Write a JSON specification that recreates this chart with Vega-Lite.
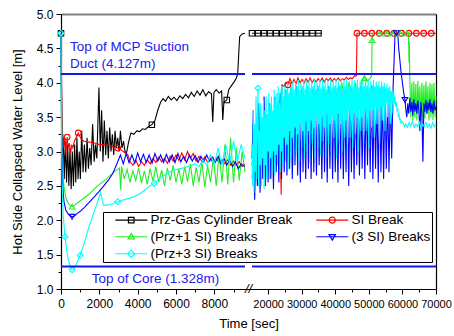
{
"$schema":"https://vega.github.io/schema/vega-lite/v6.json",
"width":375,"height":275,
"autosize":{"type":"none"},
"padding":{"left":61,"top":14,"right":18,"bottom":47},
"background":"white",
"config":{"view":{"stroke":null},"font":"Liberation Sans",
 "axis":{"labelFont":"Liberation Sans","titleFont":"Liberation Sans","labelColor":"#000","titleColor":"#000","domainColor":"#000","tickColor":"#000","grid":false,"titleFontWeight":"normal"}},
"data":{"values":[
{"s":"A","g":1,"t":0,"v":4.72,"m":1},{"s":"A","g":1,"t":40,"v":3.7},{"s":"A","g":1,"t":70,"v":2.9},{"s":"A","g":1,"t":120,"v":3.2},{"s":"A","g":1,"t":170,"v":2.6},{"s":"A","g":1,"t":230,"v":3.15},{"s":"A","g":1,"t":290,"v":2.55},{"s":"A","g":1,"t":350,"v":3.1},{"s":"A","g":1,"t":410,"v":2.5},{"s":"A","g":1,"t":470,"v":3.05},{"s":"A","g":1,"t":530,"v":2.45},{"s":"A","g":1,"t":590,"v":3.0},{"s":"A","g":1,"t":650,"v":2.5},{"s":"A","g":1,"t":710,"v":3.1},{"s":"A","g":1,"t":770,"v":2.55},{"s":"A","g":1,"t":830,"v":3.2},{"s":"A","g":1,"t":890,"v":2.6},{"s":"A","g":1,"t":950,"v":3.0},{"s":"A","g":1,"t":1010,"v":2.6},{"s":"A","g":1,"t":1080,"v":3.3},{"s":"A","g":1,"t":1150,"v":2.7},{"s":"A","g":1,"t":1220,"v":3.1},{"s":"A","g":1,"t":1290,"v":2.7},{"s":"A","g":1,"t":1360,"v":3.2},{"s":"A","g":1,"t":1430,"v":2.75},{"s":"A","g":1,"t":1500,"v":3.05},{"s":"A","g":1,"t":1570,"v":2.8},{"s":"A","g":1,"t":1650,"v":3.4},{"s":"A","g":1,"t":1730,"v":2.85},{"s":"A","g":1,"t":1800,"v":3.1},{"s":"A","g":1,"t":1870,"v":2.9},{"s":"A","g":1,"t":1980,"v":3.93},{"s":"A","g":1,"t":2050,"v":3.0},{"s":"A","g":1,"t":2120,"v":3.6},{"s":"A","g":1,"t":2190,"v":2.85},{"s":"A","g":1,"t":2260,"v":3.45},{"s":"A","g":1,"t":2330,"v":2.95},{"s":"A","g":1,"t":2400,"v":3.3},{"s":"A","g":1,"t":2470,"v":2.9},{"s":"A","g":1,"t":2540,"v":3.35},{"s":"A","g":1,"t":2610,"v":3.0},{"s":"A","g":1,"t":2680,"v":3.25},{"s":"A","g":1,"t":2750,"v":2.95},{"s":"A","g":1,"t":2820,"v":3.3},{"s":"A","g":1,"t":2890,"v":3.05},{"s":"A","g":1,"t":2960,"v":3.2},{"s":"A","g":1,"t":3030,"v":3.0},{"s":"A","g":1,"t":3100,"v":3.3},{"s":"A","g":1,"t":3180,"v":3.05},{"s":"A","g":1,"t":3260,"v":3.15},{"s":"A","g":1,"t":3340,"v":3.0},{"s":"A","g":1,"t":3420,"v":2.98},{"s":"A","g":1,"t":3500,"v":3.1},{"s":"A","g":1,"t":3580,"v":3.2},{"s":"A","g":1,"t":3650,"v":3.27},{"s":"A","g":1,"t":3800,"v":3.25},{"s":"A","g":1,"t":3950,"v":3.3},{"s":"A","g":1,"t":4100,"v":3.29},{"s":"A","g":1,"t":4250,"v":3.33},{"s":"A","g":1,"t":4400,"v":3.32},{"s":"A","g":1,"t":4550,"v":3.36},{"s":"A","g":1,"t":4740,"v":3.39,"m":1},{"s":"A","g":1,"t":4900,"v":3.45},{"s":"A","g":1,"t":5050,"v":3.6},{"s":"A","g":1,"t":5200,"v":3.72},{"s":"A","g":1,"t":5330,"v":3.77},{"s":"A","g":1,"t":5450,"v":3.73},{"s":"A","g":1,"t":5600,"v":3.8},{"s":"A","g":1,"t":5750,"v":3.75},{"s":"A","g":1,"t":5900,"v":3.79},{"s":"A","g":1,"t":6050,"v":3.74},{"s":"A","g":1,"t":6200,"v":3.81},{"s":"A","g":1,"t":6350,"v":3.77},{"s":"A","g":1,"t":6500,"v":3.83},{"s":"A","g":1,"t":6650,"v":3.78},{"s":"A","g":1,"t":6800,"v":3.86},{"s":"A","g":1,"t":6950,"v":3.8},{"s":"A","g":1,"t":7100,"v":3.88},{"s":"A","g":1,"t":7250,"v":3.82},{"s":"A","g":1,"t":7400,"v":3.9},{"s":"A","g":1,"t":7550,"v":3.81},{"s":"A","g":1,"t":7700,"v":3.87},{"s":"A","g":1,"t":7850,"v":3.84},{"s":"A","g":1,"t":7917,"v":3.43},{"s":"A","g":1,"t":7980,"v":3.86},{"s":"A","g":1,"t":8100,"v":3.9},{"s":"A","g":1,"t":8250,"v":3.85},{"s":"A","g":1,"t":8380,"v":3.88},{"s":"A","g":1,"t":8440,"v":3.46},{"s":"A","g":1,"t":8500,"v":3.72},{"s":"A","g":1,"t":8650,"v":3.75,"m":1},{"s":"A","g":1,"t":8750,"v":3.9},{"s":"A","g":1,"t":8850,"v":3.94},{"s":"A","g":1,"t":8950,"v":3.98},{"s":"A","g":1,"t":9050,"v":4.02},{"s":"A","g":1,"t":9150,"v":4.07},{"s":"A","g":1,"t":9220,"v":4.13},{"s":"A","g":1,"t":9270,"v":4.4},{"s":"A","g":1,"t":9320,"v":4.67},{"s":"A","g":1,"t":9450,"v":4.71},{"s":"A","g":1,"t":9600,"v":4.72},
{"s":"A","g":2,"t":15200,"v":4.72,"m":1},{"s":"A","g":2,"t":17000,"v":4.72,"m":1},{"s":"A","g":2,"t":18800,"v":4.72,"m":1},{"s":"A","g":2,"t":20600,"v":4.72,"m":1},{"s":"A","g":2,"t":22400,"v":4.72,"m":1},{"s":"A","g":2,"t":24200,"v":4.72,"m":1},{"s":"A","g":2,"t":26000,"v":4.72,"m":1},{"s":"A","g":2,"t":27800,"v":4.72,"m":1},{"s":"A","g":2,"t":29600,"v":4.72,"m":1},{"s":"A","g":2,"t":31400,"v":4.72,"m":1},{"s":"A","g":2,"t":33200,"v":4.72,"m":1},{"s":"A","g":2,"t":35000,"v":4.72,"m":1},{"s":"A","g":2,"t":36000,"v":4.72},
{"s":"B","g":1,"t":0,"v":4.72},{"s":"B","g":1,"t":20,"v":4.1},{"s":"B","g":1,"t":50,"v":3.2},{"s":"B","g":1,"t":100,"v":3.25},{"s":"B","g":1,"t":150,"v":3.05},{"s":"B","g":1,"t":200,"v":3.2},{"s":"B","g":1,"t":260,"v":2.95},{"s":"B","g":1,"t":320,"v":3.21,"m":1},{"s":"B","g":1,"t":380,"v":3.05},{"s":"B","g":1,"t":440,"v":3.12},{"s":"B","g":1,"t":500,"v":2.98},{"s":"B","g":1,"t":560,"v":3.1},{"s":"B","g":1,"t":620,"v":3.05},{"s":"B","g":1,"t":700,"v":3.15},{"s":"B","g":1,"t":780,"v":3.2},{"s":"B","g":1,"t":900,"v":3.27,"m":1},{"s":"B","g":1,"t":980,"v":3.22},{"s":"B","g":1,"t":1060,"v":3.18},{"s":"B","g":1,"t":1200,"v":3.15},{"s":"B","g":1,"t":1400,"v":3.14},{"s":"B","g":1,"t":1600,"v":3.13},{"s":"B","g":1,"t":1800,"v":3.12},{"s":"B","g":1,"t":2000,"v":3.1},{"s":"B","g":1,"t":2200,"v":3.1},{"s":"B","g":1,"t":2400,"v":3.09},{"s":"B","g":1,"t":2600,"v":3.08},{"s":"B","g":1,"t":2800,"v":3.06},{"s":"B","g":1,"t":2960,"v":3.05,"m":1},{"s":"B","g":1,"t":3150,"v":3.02},{"s":"B","g":1,"t":3300,"v":2.99},{"s":"B","g":1,"t":3490,"v":2.95},{"s":"B","g":1,"t":3600,"v":2.85},{"s":"B","g":1,"t":3750,"v":2.8},{"s":"B","g":1,"t":3900,"v":2.88},{"s":"B","g":1,"t":4050,"v":2.78},{"s":"B","g":1,"t":4200,"v":2.85},{"s":"B","g":1,"t":4350,"v":2.8},{"s":"B","g":1,"t":4500,"v":2.88},{"s":"B","g":1,"t":4650,"v":2.82},{"s":"B","g":1,"t":4800,"v":2.9},{"s":"B","g":1,"t":4950,"v":2.84},{"s":"B","g":1,"t":5100,"v":2.92},{"s":"B","g":1,"t":5250,"v":2.85},{"s":"B","g":1,"t":5400,"v":2.9},{"s":"B","g":1,"t":5550,"v":2.83},{"s":"B","g":1,"t":5700,"v":2.93},{"s":"B","g":1,"t":5850,"v":2.86},{"s":"B","g":1,"t":6000,"v":2.95},{"s":"B","g":1,"t":6150,"v":2.87},{"s":"B","g":1,"t":6300,"v":2.98},{"s":"B","g":1,"t":6450,"v":2.88},{"s":"B","g":1,"t":6600,"v":3.0},{"s":"B","g":1,"t":6750,"v":2.9},{"s":"B","g":1,"t":6900,"v":2.97},{"s":"B","g":1,"t":7050,"v":2.86},{"s":"B","g":1,"t":7200,"v":2.93},{"s":"B","g":1,"t":7350,"v":2.85},{"s":"B","g":1,"t":7500,"v":2.92},{"s":"B","g":1,"t":7650,"v":2.84},{"s":"B","g":1,"t":7800,"v":2.9},{"s":"B","g":1,"t":7950,"v":2.83},{"s":"B","g":1,"t":8100,"v":2.9},{"s":"B","g":1,"t":8250,"v":2.84},{"s":"B","g":1,"t":8400,"v":2.88},{"s":"B","g":1,"t":8550,"v":2.82},{"s":"B","g":1,"t":8700,"v":2.88},{"s":"B","g":1,"t":8850,"v":2.8},{"s":"B","g":1,"t":9000,"v":2.86},{"s":"B","g":1,"t":9150,"v":2.8},{"s":"B","g":1,"t":9300,"v":2.85},{"s":"B","g":1,"t":9450,"v":2.78},{"s":"B","g":1,"t":9600,"v":2.82},
{"s":"B","g":2,"t":15200,"v":2.8},{"s":"B","g":2,"t":15800,"v":3.1},{"s":"B","g":2,"t":16400,"v":2.7},{"s":"B","g":2,"t":17000,"v":3.2},{"s":"B","g":2,"t":17600,"v":2.85},{"s":"B","g":2,"t":18200,"v":3.15},{"s":"B","g":2,"t":18800,"v":2.9},{"s":"B","g":2,"t":19400,"v":3.25},{"s":"B","g":2,"t":20000,"v":2.95},{"s":"B","g":2,"t":20600,"v":3.2},{"s":"B","g":2,"t":21200,"v":2.9},{"s":"B","g":2,"t":21800,"v":3.3},{"s":"B","g":2,"t":22400,"v":3.0},{"s":"B","g":2,"t":23000,"v":3.2},{"s":"B","g":2,"t":23600,"v":3.05},{"s":"B","g":2,"t":23900,"v":2.37},{"s":"B","g":2,"t":24130,"v":3.97},{"s":"B","g":2,"t":24700,"v":3.95},{"s":"B","g":2,"t":25300,"v":4.0},{"s":"B","g":2,"t":25900,"v":3.97,"m":1},{"s":"B","g":2,"t":26500,"v":4.06},{"s":"B","g":2,"t":27100,"v":3.99},{"s":"B","g":2,"t":27700,"v":4.05},{"s":"B","g":2,"t":28300,"v":3.98},{"s":"B","g":2,"t":28900,"v":4.07},{"s":"B","g":2,"t":29500,"v":4.0},{"s":"B","g":2,"t":30100,"v":4.05},{"s":"B","g":2,"t":30700,"v":3.99},{"s":"B","g":2,"t":31300,"v":4.06},{"s":"B","g":2,"t":31900,"v":4.01},{"s":"B","g":2,"t":32500,"v":4.07},{"s":"B","g":2,"t":33100,"v":4.0},{"s":"B","g":2,"t":33700,"v":4.05},{"s":"B","g":2,"t":34300,"v":4.01},{"s":"B","g":2,"t":34900,"v":4.06},{"s":"B","g":2,"t":35500,"v":4.02},{"s":"B","g":2,"t":36100,"v":4.07},{"s":"B","g":2,"t":36700,"v":4.01},{"s":"B","g":2,"t":37300,"v":4.06},{"s":"B","g":2,"t":37900,"v":4.03},{"s":"B","g":2,"t":38500,"v":4.07},{"s":"B","g":2,"t":39100,"v":4.02},{"s":"B","g":2,"t":39700,"v":4.06},{"s":"B","g":2,"t":40300,"v":4.03},{"s":"B","g":2,"t":40900,"v":4.07},{"s":"B","g":2,"t":41500,"v":4.03},{"s":"B","g":2,"t":42100,"v":4.06},{"s":"B","g":2,"t":42700,"v":4.04},{"s":"B","g":2,"t":43300,"v":4.08},{"s":"B","g":2,"t":43900,"v":4.05},{"s":"B","g":2,"t":44500,"v":4.07},{"s":"B","g":2,"t":45100,"v":4.06},{"s":"B","g":2,"t":45700,"v":4.1},{"s":"B","g":2,"t":46300,"v":4.1},{"s":"B","g":2,"t":46470,"v":4.72,"m":1},{"s":"B","g":2,"t":48680,"v":4.72,"m":1},{"s":"B","g":2,"t":50890,"v":4.72,"m":1},{"s":"B","g":2,"t":53100,"v":4.72,"m":1},{"s":"B","g":2,"t":55310,"v":4.72,"m":1},{"s":"B","g":2,"t":57520,"v":4.72,"m":1},{"s":"B","g":2,"t":59730,"v":4.72,"m":1},{"s":"B","g":2,"t":61940,"v":4.72,"m":1},{"s":"B","g":2,"t":64150,"v":4.72,"m":1},{"s":"B","g":2,"t":66360,"v":4.72,"m":1},{"s":"B","g":2,"t":68570,"v":4.72,"m":1},{"s":"B","g":2,"t":70000,"v":4.72},
{"s":"C","g":1,"t":0,"v":4.72},{"s":"C","g":1,"t":30,"v":3.5},{"s":"C","g":1,"t":80,"v":2.75},{"s":"C","g":1,"t":150,"v":2.5},{"s":"C","g":1,"t":250,"v":2.33},{"s":"C","g":1,"t":350,"v":2.26},{"s":"C","g":1,"t":450,"v":2.22},{"s":"C","g":1,"t":580,"v":2.2,"m":1},{"s":"C","g":1,"t":700,"v":2.21},{"s":"C","g":1,"t":800,"v":2.24},{"s":"C","g":1,"t":1000,"v":2.28},{"s":"C","g":1,"t":1430,"v":2.37},{"s":"C","g":1,"t":1900,"v":2.5},{"s":"C","g":1,"t":2330,"v":2.59},{"s":"C","g":1,"t":2750,"v":2.7},{"s":"C","g":1,"t":3050,"v":2.76},{"s":"C","g":1,"t":3120,"v":2.44},{"s":"C","g":1,"t":3160,"v":2.78},{"s":"C","g":1,"t":3300,"v":2.6},{"s":"C","g":1,"t":3450,"v":2.74},{"s":"C","g":1,"t":3600,"v":2.55},{"s":"C","g":1,"t":3750,"v":2.72},{"s":"C","g":1,"t":3900,"v":2.58},{"s":"C","g":1,"t":4050,"v":2.76},{"s":"C","g":1,"t":4200,"v":2.54},{"s":"C","g":1,"t":4350,"v":2.72},{"s":"C","g":1,"t":4500,"v":2.52},{"s":"C","g":1,"t":4650,"v":2.75},{"s":"C","g":1,"t":4800,"v":2.57},{"s":"C","g":1,"t":4950,"v":2.78},{"s":"C","g":1,"t":5100,"v":2.55},{"s":"C","g":1,"t":5250,"v":2.73},{"s":"C","g":1,"t":5400,"v":2.5},{"s":"C","g":1,"t":5550,"v":2.76},{"s":"C","g":1,"t":5700,"v":2.58},{"s":"C","g":1,"t":5850,"v":2.8},{"s":"C","g":1,"t":6000,"v":2.55},{"s":"C","g":1,"t":6150,"v":2.75},{"s":"C","g":1,"t":6300,"v":2.52},{"s":"C","g":1,"t":6450,"v":2.78},{"s":"C","g":1,"t":6600,"v":2.56},{"s":"C","g":1,"t":6750,"v":2.82},{"s":"C","g":1,"t":6900,"v":2.5},{"s":"C","g":1,"t":7050,"v":2.77},{"s":"C","g":1,"t":7200,"v":2.55},{"s":"C","g":1,"t":7350,"v":2.85},{"s":"C","g":1,"t":7500,"v":2.48},{"s":"C","g":1,"t":7650,"v":2.8},{"s":"C","g":1,"t":7800,"v":2.55},{"s":"C","g":1,"t":7950,"v":2.92},{"s":"C","g":1,"t":8100,"v":2.5},{"s":"C","g":1,"t":8250,"v":2.97},{"s":"C","g":1,"t":8400,"v":2.55},{"s":"C","g":1,"t":8550,"v":3.1},{"s":"C","g":1,"t":8700,"v":2.52},{"s":"C","g":1,"t":8850,"v":3.2},{"s":"C","g":1,"t":9000,"v":2.55},{"s":"C","g":1,"t":9150,"v":3.05},{"s":"C","g":1,"t":9300,"v":2.58},{"s":"C","g":1,"t":9450,"v":3.0},{"s":"C","g":1,"t":9600,"v":2.7},
{"s":"C","g":2,"t":15200,"v":2.6},{"s":"C","g":2,"t":16000,"v":3.3},{"s":"C","g":2,"t":17000,"v":2.7},{"s":"C","g":2,"t":18000,"v":3.4},{"s":"C","g":2,"t":19000,"v":2.8},{"s":"C","g":2,"t":20000,"v":3.5},{"s":"C","g":2,"t":21000,"v":2.9},{"s":"C","g":2,"t":22000,"v":3.6},{"s":"C","g":2,"t":23000,"v":3.0},{"s":"C","g":2,"t":24000,"v":3.6},{"s":"C","g":2,"t":25000,"v":3.1},{"s":"C","g":2,"t":26000,"v":3.7},{"s":"C","g":2,"t":27000,"v":3.2},{"s":"C","g":2,"t":28000,"v":3.8},{"s":"C","g":2,"t":29000,"v":3.2},{"s":"C","g":2,"t":30000,"v":3.8},{"s":"C","g":2,"t":31000,"v":3.3},{"s":"C","g":2,"t":32000,"v":3.85},{"s":"C","g":2,"t":33000,"v":3.3},{"s":"C","g":2,"t":34000,"v":3.9},{"s":"C","g":2,"t":35000,"v":3.4},{"s":"C","g":2,"t":36000,"v":3.9},{"s":"C","g":2,"t":37000,"v":3.4},{"s":"C","g":2,"t":38000,"v":3.95},{"s":"C","g":2,"t":39000,"v":3.5},{"s":"C","g":2,"t":40000,"v":3.95},{"s":"C","g":2,"t":41000,"v":3.5},{"s":"C","g":2,"t":42000,"v":4.0},{"s":"C","g":2,"t":43000,"v":3.6},{"s":"C","g":2,"t":44000,"v":4.0},{"s":"C","g":2,"t":45000,"v":3.7},{"s":"C","g":2,"t":46000,"v":4.0},{"s":"C","g":2,"t":47000,"v":3.8},{"s":"C","g":2,"t":48000,"v":4.05},{"s":"C","g":2,"t":48700,"v":4.07,"m":1},{"s":"C","g":2,"t":49500,"v":4.02},{"s":"C","g":2,"t":50300,"v":4.06},{"s":"C","g":2,"t":50850,"v":4.1},{"s":"C","g":2,"t":50950,"v":4.62,"m":1},{"s":"C","g":2,"t":51300,"v":4.72},{"s":"C","g":2,"t":53300,"v":4.72,"m":1},{"s":"C","g":2,"t":55400,"v":4.72,"m":1},{"s":"C","g":2,"t":57200,"v":4.72,"m":1},{"s":"C","g":2,"t":59300,"v":4.72,"m":1},{"s":"C","g":2,"t":61400,"v":4.72,"m":1},{"s":"C","g":2,"t":61800,"v":4.72},{"s":"C","g":2,"t":61950,"v":4.3},{"s":"C","g":2,"t":62050,"v":4.6},{"s":"C","g":2,"t":62200,"v":4.05},{"s":"C","g":2,"t":62500,"v":3.5},{"s":"C","g":2,"t":62800,"v":4.0},{"s":"C","g":2,"t":63100,"v":3.45},{"s":"C","g":2,"t":63400,"v":4.02},{"s":"C","g":2,"t":63700,"v":3.5},{"s":"C","g":2,"t":64000,"v":3.98},{"s":"C","g":2,"t":64300,"v":3.45},{"s":"C","g":2,"t":64600,"v":4.03},{"s":"C","g":2,"t":64900,"v":3.55},{"s":"C","g":2,"t":65200,"v":3.95},{"s":"C","g":2,"t":65500,"v":3.45},{"s":"C","g":2,"t":65800,"v":4.0},{"s":"C","g":2,"t":66100,"v":3.5},{"s":"C","g":2,"t":66400,"v":3.97},{"s":"C","g":2,"t":66700,"v":3.48},{"s":"C","g":2,"t":67000,"v":4.02},{"s":"C","g":2,"t":67300,"v":3.55},{"s":"C","g":2,"t":67600,"v":3.95},{"s":"C","g":2,"t":67900,"v":3.45},{"s":"C","g":2,"t":68200,"v":4.0},{"s":"C","g":2,"t":68500,"v":3.5},{"s":"C","g":2,"t":68800,"v":3.98},{"s":"C","g":2,"t":69100,"v":3.46},{"s":"C","g":2,"t":69400,"v":4.0},{"s":"C","g":2,"t":69700,"v":3.5},{"s":"C","g":2,"t":70000,"v":3.8},
{"s":"D","g":1,"t":0,"v":4.72},{"s":"D","g":1,"t":30,"v":3.4},{"s":"D","g":1,"t":80,"v":2.55},{"s":"D","g":1,"t":150,"v":2.28},{"s":"D","g":1,"t":250,"v":2.15},{"s":"D","g":1,"t":350,"v":2.1},{"s":"D","g":1,"t":450,"v":2.07},{"s":"D","g":1,"t":580,"v":2.05,"m":1},{"s":"D","g":1,"t":700,"v":2.06},{"s":"D","g":1,"t":850,"v":2.1},{"s":"D","g":1,"t":1000,"v":2.13},{"s":"D","g":1,"t":1200,"v":2.18},{"s":"D","g":1,"t":1430,"v":2.25},{"s":"D","g":1,"t":1700,"v":2.33},{"s":"D","g":1,"t":1960,"v":2.41},{"s":"D","g":1,"t":2200,"v":2.49},{"s":"D","g":1,"t":2490,"v":2.59},{"s":"D","g":1,"t":2700,"v":2.68},{"s":"D","g":1,"t":2960,"v":2.85},{"s":"D","g":1,"t":3100,"v":2.95},{"s":"D","g":1,"t":3250,"v":2.82},{"s":"D","g":1,"t":3400,"v":2.97},{"s":"D","g":1,"t":3550,"v":2.84},{"s":"D","g":1,"t":3700,"v":2.95},{"s":"D","g":1,"t":3850,"v":2.83},{"s":"D","g":1,"t":4000,"v":2.98},{"s":"D","g":1,"t":4150,"v":2.85},{"s":"D","g":1,"t":4300,"v":2.96},{"s":"D","g":1,"t":4450,"v":2.84},{"s":"D","g":1,"t":4600,"v":2.95},{"s":"D","g":1,"t":4750,"v":2.83},{"s":"D","g":1,"t":4900,"v":2.97},{"s":"D","g":1,"t":5050,"v":2.86},{"s":"D","g":1,"t":5200,"v":2.95},{"s":"D","g":1,"t":5350,"v":2.84},{"s":"D","g":1,"t":5500,"v":2.96},{"s":"D","g":1,"t":5650,"v":2.85},{"s":"D","g":1,"t":5800,"v":2.95},{"s":"D","g":1,"t":5950,"v":2.84},{"s":"D","g":1,"t":6100,"v":2.97},{"s":"D","g":1,"t":6250,"v":2.85},{"s":"D","g":1,"t":6400,"v":2.93},{"s":"D","g":1,"t":6550,"v":2.84},{"s":"D","g":1,"t":6700,"v":2.95},{"s":"D","g":1,"t":6850,"v":2.86},{"s":"D","g":1,"t":7000,"v":2.94},{"s":"D","g":1,"t":7150,"v":2.84},{"s":"D","g":1,"t":7300,"v":2.93},{"s":"D","g":1,"t":7450,"v":2.85},{"s":"D","g":1,"t":7600,"v":2.95},{"s":"D","g":1,"t":7750,"v":2.86},{"s":"D","g":1,"t":7900,"v":2.92},{"s":"D","g":1,"t":8050,"v":2.84},{"s":"D","g":1,"t":8200,"v":2.93},{"s":"D","g":1,"t":8350,"v":2.82},{"s":"D","g":1,"t":8500,"v":2.9},{"s":"D","g":1,"t":8650,"v":2.8},{"s":"D","g":1,"t":8800,"v":2.88},{"s":"D","g":1,"t":8950,"v":2.78},{"s":"D","g":1,"t":9100,"v":2.85},{"s":"D","g":1,"t":9250,"v":2.75},{"s":"D","g":1,"t":9400,"v":2.82},{"s":"D","g":1,"t":9600,"v":2.78},
{"s":"D","g":2,"t":15200,"v":2.9},{"s":"D","g":2,"t":15600,"v":3.6},{"s":"D","g":2,"t":16000,"v":2.3},{"s":"D","g":2,"t":16400,"v":3.3},{"s":"D","g":2,"t":16800,"v":2.5},{"s":"D","g":2,"t":17200,"v":3.7},{"s":"D","g":2,"t":17600,"v":2.4},{"s":"D","g":2,"t":18000,"v":3.4},{"s":"D","g":2,"t":18400,"v":2.6},{"s":"D","g":2,"t":18800,"v":3.8},{"s":"D","g":2,"t":19200,"v":2.5},{"s":"D","g":2,"t":19600,"v":3.5},{"s":"D","g":2,"t":20000,"v":2.55},{"s":"D","g":2,"t":20400,"v":3.7},{"s":"D","g":2,"t":20800,"v":2.6},{"s":"D","g":2,"t":21200,"v":3.4},{"s":"D","g":2,"t":21600,"v":2.45},{"s":"D","g":2,"t":22000,"v":3.8},{"s":"D","g":2,"t":22400,"v":2.7},{"s":"D","g":2,"t":22800,"v":3.5},{"s":"D","g":2,"t":23200,"v":2.55},{"s":"D","g":2,"t":23600,"v":3.85},{"s":"D","g":2,"t":24000,"v":2.6},{"s":"D","g":2,"t":24400,"v":3.6},{"s":"D","g":2,"t":24800,"v":2.7},{"s":"D","g":2,"t":25200,"v":3.9},{"s":"D","g":2,"t":25600,"v":2.65},{"s":"D","g":2,"t":26000,"v":3.7},{"s":"D","g":2,"t":26400,"v":2.75},{"s":"D","g":2,"t":26800,"v":3.9},{"s":"D","g":2,"t":27200,"v":2.6},{"s":"D","g":2,"t":27600,"v":3.75},{"s":"D","g":2,"t":28000,"v":2.8},{"s":"D","g":2,"t":28400,"v":3.95},{"s":"D","g":2,"t":28800,"v":2.65},{"s":"D","g":2,"t":29200,"v":3.8},{"s":"D","g":2,"t":29600,"v":2.55},{"s":"D","g":2,"t":30000,"v":3.9},{"s":"D","g":2,"t":30400,"v":2.7},{"s":"D","g":2,"t":30800,"v":3.7},{"s":"D","g":2,"t":31200,"v":2.6},{"s":"D","g":2,"t":31600,"v":3.95},{"s":"D","g":2,"t":32000,"v":2.75},{"s":"D","g":2,"t":32400,"v":3.8},{"s":"D","g":2,"t":32800,"v":2.6},{"s":"D","g":2,"t":33200,"v":3.9},{"s":"D","g":2,"t":33600,"v":2.7},{"s":"D","g":2,"t":34000,"v":3.85},{"s":"D","g":2,"t":34400,"v":2.65},{"s":"D","g":2,"t":34800,"v":3.95},{"s":"D","g":2,"t":35200,"v":2.8},{"s":"D","g":2,"t":35600,"v":3.75},{"s":"D","g":2,"t":36000,"v":2.6},{"s":"D","g":2,"t":36400,"v":3.9},{"s":"D","g":2,"t":36800,"v":2.7},{"s":"D","g":2,"t":37200,"v":3.85},{"s":"D","g":2,"t":37600,"v":2.55},{"s":"D","g":2,"t":38000,"v":3.95},{"s":"D","g":2,"t":38400,"v":2.75},{"s":"D","g":2,"t":38800,"v":3.8},{"s":"D","g":2,"t":39200,"v":2.6},{"s":"D","g":2,"t":39600,"v":3.9},{"s":"D","g":2,"t":40000,"v":2.7},{"s":"D","g":2,"t":40400,"v":3.85},{"s":"D","g":2,"t":40800,"v":2.55},{"s":"D","g":2,"t":41200,"v":3.95},{"s":"D","g":2,"t":41600,"v":2.75},{"s":"D","g":2,"t":42000,"v":3.8},{"s":"D","g":2,"t":42400,"v":2.6},{"s":"D","g":2,"t":42800,"v":3.9},{"s":"D","g":2,"t":43200,"v":2.7},{"s":"D","g":2,"t":43600,"v":3.85},{"s":"D","g":2,"t":44000,"v":2.5},{"s":"D","g":2,"t":44400,"v":3.95},{"s":"D","g":2,"t":44800,"v":2.7},{"s":"D","g":2,"t":45200,"v":3.8},{"s":"D","g":2,"t":45600,"v":2.6},{"s":"D","g":2,"t":46000,"v":3.9},{"s":"D","g":2,"t":46400,"v":2.8},{"s":"D","g":2,"t":46800,"v":3.85},{"s":"D","g":2,"t":47200,"v":2.65},{"s":"D","g":2,"t":47600,"v":3.95},{"s":"D","g":2,"t":48000,"v":2.75},{"s":"D","g":2,"t":48400,"v":3.85},{"s":"D","g":2,"t":48800,"v":2.6},{"s":"D","g":2,"t":49200,"v":3.9},{"s":"D","g":2,"t":49600,"v":2.8},{"s":"D","g":2,"t":50000,"v":3.85},{"s":"D","g":2,"t":50400,"v":2.7},{"s":"D","g":2,"t":50800,"v":3.95},{"s":"D","g":2,"t":51200,"v":2.6},{"s":"D","g":2,"t":51600,"v":3.9},{"s":"D","g":2,"t":52000,"v":2.75},{"s":"D","g":2,"t":52400,"v":3.8},{"s":"D","g":2,"t":52800,"v":2.55},{"s":"D","g":2,"t":53200,"v":3.9},{"s":"D","g":2,"t":53600,"v":2.7},{"s":"D","g":2,"t":54000,"v":3.85},{"s":"D","g":2,"t":54400,"v":2.6},{"s":"D","g":2,"t":54800,"v":3.9},{"s":"D","g":2,"t":55200,"v":2.75},{"s":"D","g":2,"t":55600,"v":3.8},{"s":"D","g":2,"t":56000,"v":2.7},{"s":"D","g":2,"t":56400,"v":3.85},{"s":"D","g":2,"t":56800,"v":2.9},{"s":"D","g":2,"t":57200,"v":3.9},{"s":"D","g":2,"t":57500,"v":4.3},{"s":"D","g":2,"t":57800,"v":4.72},{"s":"D","g":2,"t":58200,"v":4.72,"m":1},{"s":"D","g":2,"t":58600,"v":4.72},{"s":"D","g":2,"t":58900,"v":4.5},{"s":"D","g":2,"t":59200,"v":4.35},{"s":"D","g":2,"t":59600,"v":4.15},{"s":"D","g":2,"t":60000,"v":4.0},{"s":"D","g":2,"t":60400,"v":3.85},{"s":"D","g":2,"t":60760,"v":3.75,"m":1},{"s":"D","g":2,"t":61000,"v":3.62},{"s":"D","g":2,"t":61300,"v":3.5},{"s":"D","g":2,"t":61600,"v":3.7},{"s":"D","g":2,"t":61900,"v":3.55},{"s":"D","g":2,"t":62200,"v":3.78},{"s":"D","g":2,"t":62500,"v":3.58},{"s":"D","g":2,"t":62800,"v":3.72},{"s":"D","g":2,"t":63100,"v":3.52},{"s":"D","g":2,"t":63400,"v":3.76},{"s":"D","g":2,"t":63700,"v":3.58},{"s":"D","g":2,"t":64000,"v":3.7},{"s":"D","g":2,"t":64300,"v":3.55},{"s":"D","g":2,"t":64600,"v":3.74},{"s":"D","g":2,"t":64900,"v":3.6},{"s":"D","g":2,"t":65200,"v":3.3},{"s":"D","g":2,"t":65500,"v":3.72},{"s":"D","g":2,"t":65800,"v":3.56},{"s":"D","g":2,"t":66100,"v":2.85},{"s":"D","g":2,"t":66400,"v":3.7},{"s":"D","g":2,"t":66700,"v":3.58},{"s":"D","g":2,"t":67000,"v":3.75},{"s":"D","g":2,"t":67300,"v":3.55},{"s":"D","g":2,"t":67600,"v":3.72},{"s":"D","g":2,"t":67900,"v":3.6},{"s":"D","g":2,"t":68200,"v":3.76},{"s":"D","g":2,"t":68500,"v":3.57},{"s":"D","g":2,"t":68800,"v":3.7},{"s":"D","g":2,"t":69100,"v":3.55},{"s":"D","g":2,"t":69400,"v":3.74},{"s":"D","g":2,"t":69700,"v":3.6},{"s":"D","g":2,"t":70000,"v":3.65},
{"s":"E","g":1,"t":0,"v":4.72,"m":1},{"s":"E","g":1,"t":20,"v":3.5},{"s":"E","g":1,"t":60,"v":2.5},{"s":"E","g":1,"t":120,"v":2.05},{"s":"E","g":1,"t":210,"v":1.76,"m":1},{"s":"E","g":1,"t":300,"v":1.55},{"s":"E","g":1,"t":400,"v":1.4},{"s":"E","g":1,"t":500,"v":1.32},{"s":"E","g":1,"t":580,"v":1.28,"m":1},{"s":"E","g":1,"t":680,"v":1.3},{"s":"E","g":1,"t":800,"v":1.36},{"s":"E","g":1,"t":900,"v":1.43},{"s":"E","g":1,"t":1000,"v":1.49,"m":1},{"s":"E","g":1,"t":1200,"v":1.66},{"s":"E","g":1,"t":1400,"v":1.85},{"s":"E","g":1,"t":1600,"v":2.02},{"s":"E","g":1,"t":1800,"v":2.18},{"s":"E","g":1,"t":1950,"v":2.3},{"s":"E","g":1,"t":2060,"v":2.4},{"s":"E","g":1,"t":2150,"v":2.3},{"s":"E","g":1,"t":2220,"v":2.22},{"s":"E","g":1,"t":2400,"v":2.22},{"s":"E","g":1,"t":2600,"v":2.23},{"s":"E","g":1,"t":2960,"v":2.27,"m":1},{"s":"E","g":1,"t":3300,"v":2.3},{"s":"E","g":1,"t":3800,"v":2.34},{"s":"E","g":1,"t":4200,"v":2.4},{"s":"E","g":1,"t":4500,"v":2.47},{"s":"E","g":1,"t":4870,"v":2.54,"m":1},{"s":"E","g":1,"t":5200,"v":2.62},{"s":"E","g":1,"t":5600,"v":2.69},{"s":"E","g":1,"t":5900,"v":2.73},{"s":"E","g":1,"t":6200,"v":2.75},{"s":"E","g":1,"t":6500,"v":2.77},{"s":"E","g":1,"t":6800,"v":2.8},{"s":"E","g":1,"t":7000,"v":2.82},{"s":"E","g":1,"t":7200,"v":2.78},{"s":"E","g":1,"t":7400,"v":2.88},{"s":"E","g":1,"t":7600,"v":2.8},{"s":"E","g":1,"t":7800,"v":2.95},{"s":"E","g":1,"t":8000,"v":2.82},{"s":"E","g":1,"t":8200,"v":3.05},{"s":"E","g":1,"t":8400,"v":2.8},{"s":"E","g":1,"t":8600,"v":3.1},{"s":"E","g":1,"t":8800,"v":2.82},{"s":"E","g":1,"t":9000,"v":3.15},{"s":"E","g":1,"t":9200,"v":2.85},{"s":"E","g":1,"t":9400,"v":3.1},{"s":"E","g":1,"t":9600,"v":2.9},
{"s":"E","g":2,"t":15200,"v":3.1},{"s":"E","g":2,"t":15400,"v":2.5},{"s":"E","g":2,"t":15600,"v":3.6},{"s":"E","g":2,"t":15800,"v":2.4},{"s":"E","g":2,"t":16000,"v":3.4},{"s":"E","g":2,"t":16200,"v":2.7},{"s":"E","g":2,"t":16400,"v":3.8},{"s":"E","g":2,"t":16600,"v":2.6},{"s":"E","g":2,"t":16800,"v":3.5},{"s":"E","g":2,"t":17000,"v":3.92,"m":1},{"s":"E","g":2,"t":17200,"v":2.5},{"s":"E","g":2,"t":17400,"v":3.3},{"s":"E","g":2,"t":17600,"v":2.8},{"s":"E","g":2,"t":17800,"v":3.7},{"s":"E","g":2,"t":18000,"v":2.5},{"s":"E","g":2,"t":18200,"v":3.5},{"s":"E","g":2,"t":18400,"v":2.9},{"s":"E","g":2,"t":18600,"v":3.75},{"s":"E","g":2,"t":18800,"v":2.45},{"s":"E","g":2,"t":19000,"v":3.6},{"s":"E","g":2,"t":19200,"v":2.8},{"s":"E","g":2,"t":19400,"v":3.8},{"s":"E","g":2,"t":19600,"v":2.6},{"s":"E","g":2,"t":19800,"v":3.55},{"s":"E","g":2,"t":20000,"v":3.0},{"s":"E","g":2,"t":20200,"v":3.85},{"s":"E","g":2,"t":20400,"v":2.6},{"s":"E","g":2,"t":20600,"v":3.7},{"s":"E","g":2,"t":20800,"v":2.9},{"s":"E","g":2,"t":21000,"v":3.8},{"s":"E","g":2,"t":21200,"v":2.7},{"s":"E","g":2,"t":21400,"v":3.6},{"s":"E","g":2,"t":21600,"v":3.0},{"s":"E","g":2,"t":21800,"v":3.9},{"s":"E","g":2,"t":22000,"v":2.65},{"s":"E","g":2,"t":22200,"v":3.75},{"s":"E","g":2,"t":22400,"v":2.95},{"s":"E","g":2,"t":22600,"v":3.85},{"s":"E","g":2,"t":22800,"v":2.8},{"s":"E","g":2,"t":23000,"v":3.95},{"s":"E","g":2,"t":23200,"v":3.1},{"s":"E","g":2,"t":23400,"v":3.7},{"s":"E","g":2,"t":23600,"v":2.7},{"s":"E","g":2,"t":23800,"v":3.9},{"s":"E","g":2,"t":24000,"v":3.0},{"s":"E","g":2,"t":24200,"v":3.95},{"s":"E","g":2,"t":24400,"v":2.8},{"s":"E","g":2,"t":24600,"v":3.8},{"s":"E","g":2,"t":24800,"v":3.2},{"s":"E","g":2,"t":25000,"v":4.0},{"s":"E","g":2,"t":25200,"v":2.85},{"s":"E","g":2,"t":25400,"v":3.9},{"s":"E","g":2,"t":25600,"v":3.1},{"s":"E","g":2,"t":25800,"v":4.02},{"s":"E","g":2,"t":26000,"v":2.75},{"s":"E","g":2,"t":26200,"v":3.85},{"s":"E","g":2,"t":26400,"v":3.3},{"s":"E","g":2,"t":26600,"v":4.0},{"s":"E","g":2,"t":26800,"v":2.9},{"s":"E","g":2,"t":27000,"v":3.95},{"s":"E","g":2,"t":27200,"v":3.2},{"s":"E","g":2,"t":27400,"v":4.03},{"s":"E","g":2,"t":27600,"v":2.8},{"s":"E","g":2,"t":27800,"v":3.9},{"s":"E","g":2,"t":28000,"v":3.35},{"s":"E","g":2,"t":28200,"v":4.0},{"s":"E","g":2,"t":28400,"v":3.0},{"s":"E","g":2,"t":28600,"v":3.95},{"s":"E","g":2,"t":28800,"v":3.25},{"s":"E","g":2,"t":29000,"v":4.04},{"s":"E","g":2,"t":29200,"v":2.85},{"s":"E","g":2,"t":29400,"v":3.9},{"s":"E","g":2,"t":29600,"v":3.4},{"s":"E","g":2,"t":29800,"v":4.0},{"s":"E","g":2,"t":30000,"v":3.05},{"s":"E","g":2,"t":30200,"v":3.95},{"s":"E","g":2,"t":30400,"v":3.3},{"s":"E","g":2,"t":30600,"v":4.05},{"s":"E","g":2,"t":30800,"v":2.9},{"s":"E","g":2,"t":31000,"v":3.9},{"s":"E","g":2,"t":31200,"v":3.45},{"s":"E","g":2,"t":31400,"v":4.02},{"s":"E","g":2,"t":31600,"v":3.0},{"s":"E","g":2,"t":31800,"v":3.95},{"s":"E","g":2,"t":32000,"v":3.3},{"s":"E","g":2,"t":32200,"v":4.05},{"s":"E","g":2,"t":32400,"v":2.85},{"s":"E","g":2,"t":32600,"v":3.92},{"s":"E","g":2,"t":32800,"v":3.45},{"s":"E","g":2,"t":33000,"v":4.02},{"s":"E","g":2,"t":33200,"v":3.1},{"s":"E","g":2,"t":33400,"v":3.95},{"s":"E","g":2,"t":33600,"v":3.35},{"s":"E","g":2,"t":33800,"v":4.05},{"s":"E","g":2,"t":34000,"v":2.9},{"s":"E","g":2,"t":34200,"v":3.9},{"s":"E","g":2,"t":34400,"v":3.5},{"s":"E","g":2,"t":34600,"v":4.03},{"s":"E","g":2,"t":34800,"v":3.05},{"s":"E","g":2,"t":35000,"v":3.95},{"s":"E","g":2,"t":35200,"v":3.4},{"s":"E","g":2,"t":35400,"v":4.05},{"s":"E","g":2,"t":35600,"v":2.95},{"s":"E","g":2,"t":35800,"v":3.92},{"s":"E","g":2,"t":36000,"v":3.5},{"s":"E","g":2,"t":36200,"v":4.04},{"s":"E","g":2,"t":36400,"v":3.15},{"s":"E","g":2,"t":36600,"v":3.95},{"s":"E","g":2,"t":36800,"v":3.35},{"s":"E","g":2,"t":37000,"v":4.05},{"s":"E","g":2,"t":37200,"v":2.9},{"s":"E","g":2,"t":37400,"v":3.9},{"s":"E","g":2,"t":37600,"v":3.55},{"s":"E","g":2,"t":37800,"v":4.03},{"s":"E","g":2,"t":38000,"v":3.1},{"s":"E","g":2,"t":38200,"v":3.95},{"s":"E","g":2,"t":38400,"v":3.4},{"s":"E","g":2,"t":38600,"v":4.05},{"s":"E","g":2,"t":38800,"v":3.0},{"s":"E","g":2,"t":39000,"v":3.92},{"s":"E","g":2,"t":39200,"v":3.5},{"s":"E","g":2,"t":39400,"v":4.04},{"s":"E","g":2,"t":39600,"v":3.2},{"s":"E","g":2,"t":39800,"v":3.95},{"s":"E","g":2,"t":40000,"v":3.45},{"s":"E","g":2,"t":40200,"v":4.05},{"s":"E","g":2,"t":40400,"v":2.9},{"s":"E","g":2,"t":40600,"v":3.93},{"s":"E","g":2,"t":40800,"v":3.55},{"s":"E","g":2,"t":41000,"v":4.03},{"s":"E","g":2,"t":41200,"v":3.15},{"s":"E","g":2,"t":41400,"v":3.96},{"s":"E","g":2,"t":41600,"v":3.4},{"s":"E","g":2,"t":41800,"v":4.05},{"s":"E","g":2,"t":42000,"v":3.0},{"s":"E","g":2,"t":42200,"v":3.92},{"s":"E","g":2,"t":42400,"v":3.55},{"s":"E","g":2,"t":42600,"v":4.04},{"s":"E","g":2,"t":42800,"v":3.2},{"s":"E","g":2,"t":43000,"v":3.95},{"s":"E","g":2,"t":43200,"v":3.45},{"s":"E","g":2,"t":43400,"v":4.05},{"s":"E","g":2,"t":43600,"v":2.95},{"s":"E","g":2,"t":43800,"v":3.93},{"s":"E","g":2,"t":44000,"v":3.6},{"s":"E","g":2,"t":44200,"v":4.03},{"s":"E","g":2,"t":44400,"v":3.2},{"s":"E","g":2,"t":44600,"v":3.96},{"s":"E","g":2,"t":44800,"v":3.5},{"s":"E","g":2,"t":45000,"v":4.05},{"s":"E","g":2,"t":45200,"v":3.05},{"s":"E","g":2,"t":45400,"v":3.94},{"s":"E","g":2,"t":45600,"v":3.55},{"s":"E","g":2,"t":45800,"v":4.04},{"s":"E","g":2,"t":46000,"v":3.25},{"s":"E","g":2,"t":46200,"v":3.95},{"s":"E","g":2,"t":46400,"v":3.5},{"s":"E","g":2,"t":46600,"v":4.05},{"s":"E","g":2,"t":46800,"v":3.0},{"s":"E","g":2,"t":47000,"v":3.93},{"s":"E","g":2,"t":47200,"v":3.6},{"s":"E","g":2,"t":47400,"v":4.03},{"s":"E","g":2,"t":47600,"v":3.3},{"s":"E","g":2,"t":47800,"v":3.96},{"s":"E","g":2,"t":48000,"v":3.5},{"s":"E","g":2,"t":48200,"v":4.05},{"s":"E","g":2,"t":48400,"v":3.1},{"s":"E","g":2,"t":48600,"v":3.95},{"s":"E","g":2,"t":48800,"v":3.6},{"s":"E","g":2,"t":49000,"v":4.04},{"s":"E","g":2,"t":49200,"v":3.3},{"s":"E","g":2,"t":49400,"v":3.96},{"s":"E","g":2,"t":49600,"v":3.55},{"s":"E","g":2,"t":49800,"v":4.05},{"s":"E","g":2,"t":50000,"v":3.05},{"s":"E","g":2,"t":50200,"v":3.93},{"s":"E","g":2,"t":50400,"v":3.6},{"s":"E","g":2,"t":50600,"v":4.03},{"s":"E","g":2,"t":50800,"v":3.35},{"s":"E","g":2,"t":51000,"v":3.97},{"s":"E","g":2,"t":51200,"v":3.6},{"s":"E","g":2,"t":51400,"v":4.04},{"s":"E","g":2,"t":51600,"v":3.2},{"s":"E","g":2,"t":51800,"v":3.95},{"s":"E","g":2,"t":52000,"v":3.65},{"s":"E","g":2,"t":52200,"v":4.02},{"s":"E","g":2,"t":52400,"v":3.4},{"s":"E","g":2,"t":52600,"v":3.96},{"s":"E","g":2,"t":52800,"v":3.6},{"s":"E","g":2,"t":53000,"v":4.03},{"s":"E","g":2,"t":53200,"v":3.1},{"s":"E","g":2,"t":53400,"v":3.94},{"s":"E","g":2,"t":53600,"v":3.65},{"s":"E","g":2,"t":53800,"v":4.02},{"s":"E","g":2,"t":54000,"v":3.45},{"s":"E","g":2,"t":54200,"v":3.95},{"s":"E","g":2,"t":54400,"v":3.65},{"s":"E","g":2,"t":54600,"v":4.0},{"s":"E","g":2,"t":54800,"v":3.3},{"s":"E","g":2,"t":55000,"v":3.93},{"s":"E","g":2,"t":55200,"v":3.7},{"s":"E","g":2,"t":55400,"v":3.98},{"s":"E","g":2,"t":55600,"v":3.5},{"s":"E","g":2,"t":55800,"v":3.92},{"s":"E","g":2,"t":56000,"v":3.7},{"s":"E","g":2,"t":56200,"v":3.95},{"s":"E","g":2,"t":56400,"v":3.4},{"s":"E","g":2,"t":56600,"v":3.88},{"s":"E","g":2,"t":56800,"v":3.7},{"s":"E","g":2,"t":57000,"v":3.9},{"s":"E","g":2,"t":57200,"v":3.55},{"s":"E","g":2,"t":57400,"v":3.85},{"s":"E","g":2,"t":57600,"v":3.7},{"s":"E","g":2,"t":57800,"v":3.8},{"s":"E","g":2,"t":58000,"v":3.65},{"s":"E","g":2,"t":58200,"v":3.72},{"s":"E","g":2,"t":58400,"v":3.6},{"s":"E","g":2,"t":58600,"v":3.62},{"s":"E","g":2,"t":58800,"v":3.5},{"s":"E","g":2,"t":59000,"v":3.55},{"s":"E","g":2,"t":59200,"v":3.45},{"s":"E","g":2,"t":59400,"v":3.48},{"s":"E","g":2,"t":59600,"v":3.4},{"s":"E","g":2,"t":59800,"v":3.44},{"s":"E","g":2,"t":60200,"v":3.42},{"s":"E","g":2,"t":60600,"v":3.36},{"s":"E","g":2,"t":61000,"v":3.4},{"s":"E","g":2,"t":61500,"v":3.35},{"s":"E","g":2,"t":62000,"v":3.42},{"s":"E","g":2,"t":62500,"v":3.37},{"s":"E","g":2,"t":63000,"v":3.44},{"s":"E","g":2,"t":63500,"v":3.35},{"s":"E","g":2,"t":64000,"v":3.4},{"s":"E","g":2,"t":64500,"v":3.36},{"s":"E","g":2,"t":65000,"v":3.43},{"s":"E","g":2,"t":65500,"v":3.34},{"s":"E","g":2,"t":66000,"v":3.4},{"s":"E","g":2,"t":66500,"v":3.36},{"s":"E","g":2,"t":67000,"v":3.42},{"s":"E","g":2,"t":67500,"v":3.35},{"s":"E","g":2,"t":68000,"v":3.4},{"s":"E","g":2,"t":68500,"v":3.34},{"s":"E","g":2,"t":69000,"v":3.42},{"s":"E","g":2,"t":69500,"v":3.36},{"s":"E","g":2,"t":70000,"v":3.4}
]},
"resolve":{"axis":{"x":"independent","y":"independent"}},
"layer":[
{"transform":[{"filter":"datum.s == 'A'"}],
 "mark":{"type":"line","strokeWidth":1.1},
 "encoding":{
  "x":{"field":"t","type":"quantitative","scale":{"type":"linear","domain":[0,9600,15200,70000],"range":[0,184,191,375],"nice":false,"zero":false},
   "axis":{"values":[0,1000,2000,3000,4000,5000,6000,7000,8000,9000,20000,25000,30000,35000,40000,45000,50000,55000,60000,65000,70000],"format":"d",
    "labelExpr":"(datum.value < 10000 && datum.value % 2000 == 0) || datum.value % 10000 == 0 ? datum.label : ''",
    "tickSize":{"condition":{"test":"(datum.value < 10000 && datum.value % 2000 == 0) || datum.value % 10000 == 0","value":5},"value":3},
    "labelFontSize":{"condition":{"test":"datum.value > 10000","value":11},"value":12},
    "labelPadding":4,"labelOverlap":false,"labelFlush":false,"labelBound":false,"domainWidth":1.2,
    "title":"Time [sec]","titleFontSize":13,"titlePadding":8}},
  "y":{"field":"v","type":"quantitative","scale":{"type":"linear","domain":[1,5],"nice":false,"zero":false},
   "axis":{"values":[1,1.25,1.5,1.75,2,2.25,2.5,2.75,3,3.25,3.5,3.75,4,4.25,4.5,4.75,5],
    "labelExpr":"(datum.value*2) % 1 == 0 ? format(datum.value,'.1f') : ''",
    "tickSize":{"condition":{"test":"(datum.value*2) % 1 != 0","value":3},"value":5},
    "labelFontSize":12,"labelPadding":3,"labelOverlap":false,"labelFlush":false,"labelBound":false,"domainWidth":1.2,
    "title":"Hot Side Collapsed Water Level [m]","titleFontSize":13,"titlePadding":12}},
  "color":{"field":"s","type":"nominal","scale":{"domain":["A","B","C","D","E"],"range":["#000000","#ff0000","#22ee22","#0000ff","#00ffff"]},
   "legend":{"orient":"none","legendX":42,"legendY":198,"title":null,"columns":2,"direction":"horizontal",
    "labelExpr":"datum.label == 'A' ? 'Prz-Gas Cylinder Break' : datum.label == 'B' ? 'SI Break' : datum.label == 'C' ? '(Prz+1 SI) Breaks' : datum.label == 'D' ? '(3 SI) Breaks' : '(Prz+3 SI) Breaks'",
    "labelFont":"Liberation Sans","labelFontSize":13.5,"labelLimit":300,"labelColor":"#000",
    "symbolSize":64,"symbolStrokeWidth":1.2,"symbolOffset":20.5,"labelOffset":12.5,"columnPadding":12,"rowPadding":2,"padding":1,
    "strokeColor":"#000","fillColor":"#fff",
    "encode":{"symbols":{"update":{"fill":{"value":"transparent"},"shape":{"signal":"datum.value == 'A' ? 'M-4,0H4M-0.7,-0.7H0.7V0.7H-0.7Z' : datum.value == 'B' ? 'M-4,0H4M-0.75,0A0.75,0.75,0,1,0,0.75,0A0.75,0.75,0,1,0,-0.75,0' : datum.value == 'C' ? 'M-4,0H4M0,-0.85L0.8,0.55H-0.8Z' : datum.value == 'D' ? 'M-4,0H4M0,0.85L0.8,-0.55H-0.8Z' : 'M-4,0H4M0,-0.9L0.9,0L0,0.9L-0.9,0Z'"}}}}}},
  "detail":{"field":"g","type":"nominal"}}},
{"transform":[{"filter":"datum.s == 'B'"}],
 "mark":{"type":"line","strokeWidth":1.1},
 "encoding":{
  "x":{"field":"t","type":"quantitative","scale":{"type":"linear","domain":[0,9600,15200,70000],"range":[0,184,191,375],"nice":false,"zero":false},"axis":null},
  "y":{"field":"v","type":"quantitative","scale":{"type":"linear","domain":[1,5],"nice":false,"zero":false},"axis":null},
  "color":{"field":"s","type":"nominal","scale":{"domain":["A","B","C","D","E"],"range":["#000000","#ff0000","#22ee22","#0000ff","#00ffff"]}},
  "detail":{"field":"g","type":"nominal"}}},
{"transform":[{"filter":"datum.s == 'C'"}],
 "mark":{"type":"line","strokeWidth":1.1},
 "encoding":{
  "x":{"field":"t","type":"quantitative","scale":{"type":"linear","domain":[0,9600,15200,70000],"range":[0,184,191,375],"nice":false,"zero":false},"axis":null},
  "y":{"field":"v","type":"quantitative","scale":{"type":"linear","domain":[1,5],"nice":false,"zero":false},"axis":null},
  "color":{"field":"s","type":"nominal","scale":{"domain":["A","B","C","D","E"],"range":["#000000","#ff0000","#22ee22","#0000ff","#00ffff"]}},
  "detail":{"field":"g","type":"nominal"}}},
{"transform":[{"filter":"datum.s == 'D'"}],
 "mark":{"type":"line","strokeWidth":1.1},
 "encoding":{
  "x":{"field":"t","type":"quantitative","scale":{"type":"linear","domain":[0,9600,15200,70000],"range":[0,184,191,375],"nice":false,"zero":false},"axis":null},
  "y":{"field":"v","type":"quantitative","scale":{"type":"linear","domain":[1,5],"nice":false,"zero":false},"axis":null},
  "color":{"field":"s","type":"nominal","scale":{"domain":["A","B","C","D","E"],"range":["#000000","#ff0000","#22ee22","#0000ff","#00ffff"]}},
  "detail":{"field":"g","type":"nominal"}}},
{"transform":[{"filter":"datum.s == 'E'"}],
 "mark":{"type":"line","strokeWidth":1.1},
 "encoding":{
  "x":{"field":"t","type":"quantitative","scale":{"type":"linear","domain":[0,9600,15200,70000],"range":[0,184,191,375],"nice":false,"zero":false},"axis":null},
  "y":{"field":"v","type":"quantitative","scale":{"type":"linear","domain":[1,5],"nice":false,"zero":false},"axis":null},
  "color":{"field":"s","type":"nominal","scale":{"domain":["A","B","C","D","E"],"range":["#000000","#ff0000","#22ee22","#0000ff","#00ffff"]}},
  "detail":{"field":"g","type":"nominal"}}},
{"transform":[{"filter":"datum.s == 'A' && datum.m == 1"}],
 "mark":{"type":"point","shape":"square","filled":false,"size":30,"strokeWidth":1.1,"color":"#000000","opacity":1},
 "encoding":{
  "x":{"field":"t","type":"quantitative","scale":{"type":"linear","domain":[0,9600,15200,70000],"range":[0,184,191,375],"nice":false,"zero":false},"axis":null},
  "y":{"field":"v","type":"quantitative","scale":{"type":"linear","domain":[1,5],"nice":false,"zero":false},"axis":null}}},
{"transform":[{"filter":"datum.s == 'B' && datum.m == 1"}],
 "mark":{"type":"point","shape":"circle","filled":false,"size":32,"strokeWidth":1.1,"color":"#ff0000","opacity":1},
 "encoding":{
  "x":{"field":"t","type":"quantitative","scale":{"type":"linear","domain":[0,9600,15200,70000],"range":[0,184,191,375],"nice":false,"zero":false},"axis":null},
  "y":{"field":"v","type":"quantitative","scale":{"type":"linear","domain":[1,5],"nice":false,"zero":false},"axis":null}}},
{"transform":[{"filter":"datum.s == 'C' && datum.m == 1"}],
 "mark":{"type":"point","shape":"triangle-up","filled":false,"size":32,"strokeWidth":1.1,"color":"#22ee22","opacity":1},
 "encoding":{
  "x":{"field":"t","type":"quantitative","scale":{"type":"linear","domain":[0,9600,15200,70000],"range":[0,184,191,375],"nice":false,"zero":false},"axis":null},
  "y":{"field":"v","type":"quantitative","scale":{"type":"linear","domain":[1,5],"nice":false,"zero":false},"axis":null}}},
{"transform":[{"filter":"datum.s == 'D' && datum.m == 1"}],
 "mark":{"type":"point","shape":"triangle-down","filled":false,"size":32,"strokeWidth":1.1,"color":"#0000ff","opacity":1},
 "encoding":{
  "x":{"field":"t","type":"quantitative","scale":{"type":"linear","domain":[0,9600,15200,70000],"range":[0,184,191,375],"nice":false,"zero":false},"axis":null},
  "y":{"field":"v","type":"quantitative","scale":{"type":"linear","domain":[1,5],"nice":false,"zero":false},"axis":null}}},
{"transform":[{"filter":"datum.s == 'E' && datum.m == 1"}],
 "mark":{"type":"point","shape":"diamond","filled":false,"size":36,"strokeWidth":1.1,"color":"#00ffff","opacity":1},
 "encoding":{
  "x":{"field":"t","type":"quantitative","scale":{"type":"linear","domain":[0,9600,15200,70000],"range":[0,184,191,375],"nice":false,"zero":false},"axis":null},
  "y":{"field":"v","type":"quantitative","scale":{"type":"linear","domain":[1,5],"nice":false,"zero":false},"axis":null}}},
{"data":{"values":[{"a":0,"b":9600,"lv":4.127},{"a":15200,"b":70000,"lv":4.127},{"a":0,"b":9600,"lv":1.328},{"a":15200,"b":70000,"lv":1.328}]},
 "mark":{"type":"rule","color":"#1515f0","strokeWidth":2},
 "encoding":{
  "x":{"field":"a","type":"quantitative","scale":{"type":"linear","domain":[0,9600,15200,70000],"range":[0,184,191,375],"nice":false,"zero":false},
   "axis":{"orient":"top","labels":false,"ticks":false,"title":null,"domainColor":"#808080","domainWidth":2}},
  "x2":{"field":"b"},
  "y":{"field":"lv","type":"quantitative","scale":{"type":"linear","domain":[1,5],"nice":false,"zero":false},
   "axis":{"orient":"right","labels":false,"ticks":false,"title":null,"domainColor":"#000","domainWidth":1.2}}}},
{"data":{"values":[{}]},
 "mark":{"type":"text","align":"left","baseline":"alphabetic","fontSize":13.5,"font":"Liberation Sans","color":"#2020ee","lineHeight":16.7},
 "encoding":{
  "x":{"datum":470,"type":"quantitative","scale":{"type":"linear","domain":[0,9600,15200,70000],"range":[0,184,191,375],"nice":false,"zero":false},"axis":null},
  "y":{"datum":4.46,"type":"quantitative","scale":{"type":"linear","domain":[1,5],"nice":false,"zero":false},"axis":null},
  "text":{"value":["Top of MCP Suction","Duct (4.127m)"]}}},
{"data":{"values":[{}]},
 "mark":{"type":"text","align":"left","baseline":"alphabetic","fontSize":13.5,"font":"Liberation Sans","color":"#2020ee"},
 "encoding":{
  "x":{"datum":1600,"type":"quantitative","scale":{"type":"linear","domain":[0,9600,15200,70000],"range":[0,184,191,375],"nice":false,"zero":false},"axis":null},
  "y":{"datum":1.087,"type":"quantitative","scale":{"type":"linear","domain":[1,5],"nice":false,"zero":false},"axis":null},
  "text":{"value":"Top of Core (1.328m)"}}},
{"data":{"values":[{}]},
 "mark":{"type":"text","align":"center","baseline":"middle","fontSize":13,"font":"Liberation Sans","fontStyle":"italic","color":"#000"},
 "encoding":{
  "x":{"datum":12400,"type":"quantitative","scale":{"type":"linear","domain":[0,9600,15200,70000],"range":[0,184,191,375],"nice":false,"zero":false},"axis":null},
  "y":{"datum":1.0,"type":"quantitative","scale":{"type":"linear","domain":[1,5],"nice":false,"zero":false},"axis":null},
  "text":{"value":"//"}}}
]
}
